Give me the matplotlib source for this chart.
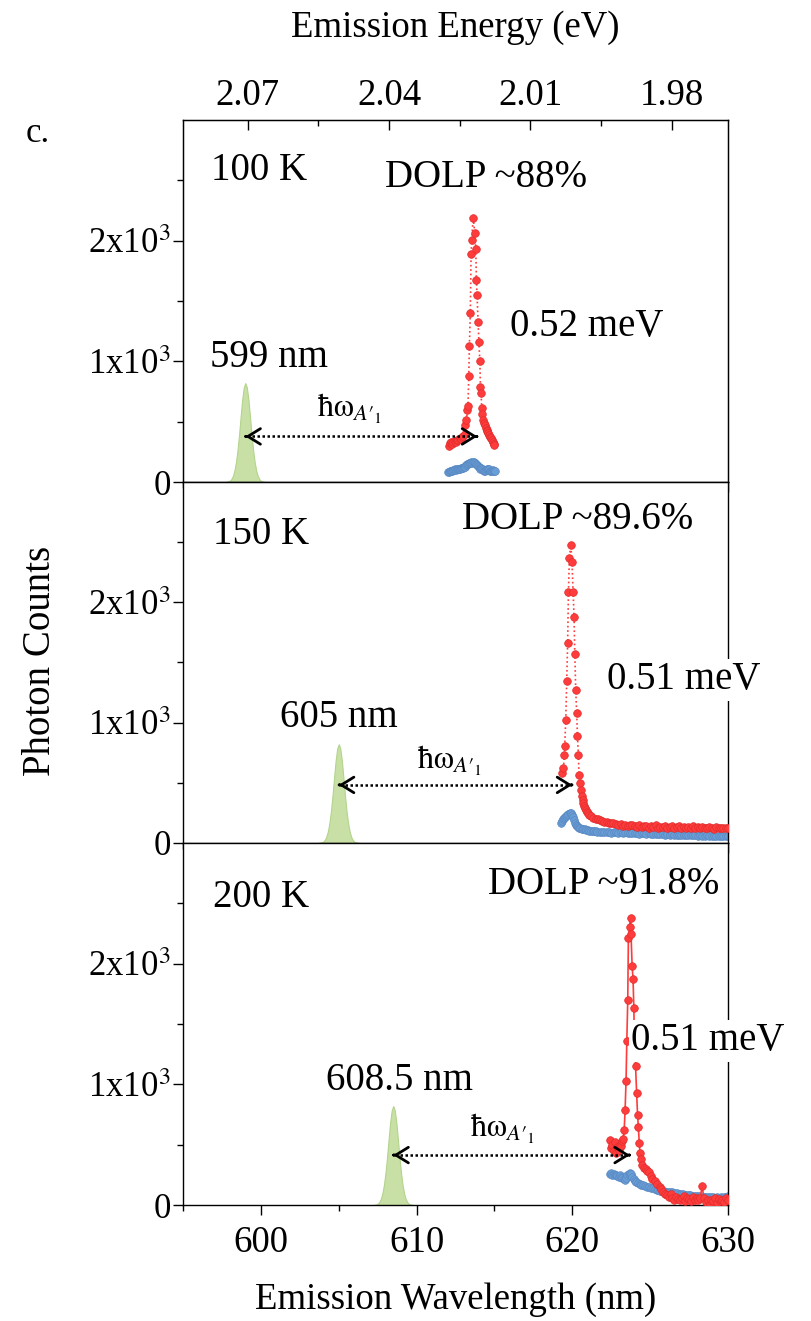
import numpy as np
import matplotlib.pyplot as plt
from matplotlib.ticker import FixedLocator, MultipleLocator, FuncFormatter

plt.rcParams['font.family'] = ['Liberation Serif', 'DejaVu Serif']
plt.rcParams['mathtext.fontset'] = 'stix'

# ---- 100 K ----
wl_100_red = [612.05, 612.12, 612.2, 612.28, 612.36, 612.44, 612.52, 612.6, 612.68, 612.76,
              612.84, 612.92, 613.0, 613.08, 613.13, 613.2, 613.26, 613.3, 613.35, 613.39,
              613.45, 613.5, 613.54, 613.63, 613.74, 613.8, 613.84, 613.88, 613.95, 614.0,
              614.06, 614.1, 614.14, 614.18, 614.23, 614.28, 614.34, 614.4, 614.45, 614.5,
              614.55, 614.6, 614.66, 614.72, 614.78, 614.84, 614.9, 614.95, 615.0]
cnt_100_red = [300, 320, 330, 315, 335, 340, 330, 350, 345, 360,
               355, 370, 380, 400, 475, 511, 594, 633, 878, 1128,
               1405, 1892, 2008, 2189, 2064, 1933, 1675, 1550, 1328, 1164,
               1003, 786, 739, 614, 560, 517, 490, 475, 450, 433,
               420, 406, 390, 375, 364, 350, 335, 317, 305]
wl_100_blue = [612.0, 612.06, 612.12, 612.18, 612.24, 612.3, 612.36, 612.42, 612.48, 612.54,
               612.6, 612.66, 612.72, 612.78, 612.84, 612.9, 612.96, 613.02, 613.08, 613.14,
               613.2, 613.26, 613.32, 613.38, 613.44, 613.5, 613.56, 613.62, 613.68, 613.74,
               613.8, 613.86, 613.92, 613.98, 614.04, 614.1, 614.16, 614.22, 614.28, 614.34,
               614.4, 614.46, 614.52, 614.58, 614.64, 614.7, 614.76, 614.82, 614.88, 614.94,
               615.0, 615.05]
cnt_100_blue = [85, 80, 90, 95, 88, 95, 100, 98, 105, 100,
                108, 112, 105, 110, 118, 115, 120, 125, 130, 128,
                140, 148, 150, 155, 160, 165, 158, 162, 168, 160,
                150, 140, 130, 125, 118, 110, 115, 105, 100, 95,
                92, 100, 108, 112, 105, 95, 88, 92, 100, 95,
                88, 92]

# ---- 150 K ----
wl_150_red = [619.36, 619.43, 619.49, 619.51, 619.58, 619.64, 619.7, 619.75, 619.81, 619.9,
              619.98, 620.05, 620.11, 620.16, 620.22, 620.28, 620.33, 620.39, 620.43, 620.5,
              620.54, 620.6, 620.66, 620.71, 620.77, 620.82, 620.9, 620.97, 621.03, 621.1,
              621.2, 621.35, 621.5, 621.65, 621.78, 621.9, 622.05, 622.2, 622.35, 622.5, 622.64]
cnt_150_red = [581, 622, 733, 803, 1025, 1344, 1664, 2081, 2364, 2475,
               2331, 2086, 1881, 1567, 1267, 1081, 892, 727, 567, 497,
               442, 386, 355, 331, 305, 289, 270, 255, 247, 235,
               220, 211, 200, 195, 192, 185, 178, 172, 168, 165, 164]
tail_150_red = [160, 148, 155, 142, 150, 138, 145, 152, 140, 135, 148, 130, 142, 138, 125, 140,
                132, 145, 128, 136, 130, 142, 125, 133, 138, 126, 130, 140, 122, 135, 128, 132,
                120, 138, 126, 130, 124, 135, 128, 120, 132, 126, 118, 130, 124, 128, 120, 126, 122]
tail_150_red_span = (622.8, 630.0)

wl_150_blue = [619.26, 619.33, 619.4, 619.47, 619.54, 619.61, 619.68, 619.75, 619.82, 619.89,
               619.96, 620.03, 620.1, 620.17, 620.24, 620.31, 620.38, 620.45, 620.52, 620.6,
               620.7, 620.8, 620.9, 621.0, 621.1, 621.2, 621.3, 621.4, 621.5, 621.6]
cnt_150_blue = [164, 180, 195, 205, 215, 222, 230, 238, 245, 247,
                235, 215, 190, 165, 150, 138, 130, 125, 120, 118,
                115, 112, 108, 105, 102, 100, 98, 96, 95, 94]
tail_150_blue = [92, 90, 94, 88, 91, 86, 89, 92, 85, 88, 84, 87, 82, 86, 80, 84, 83, 78, 82, 80,
                 76, 80, 78, 74, 77, 72, 76, 74, 70, 73, 68, 72, 70, 66, 70, 67, 64, 68, 65, 62,
                 66, 63, 60, 64, 61, 58, 62, 60, 57, 61, 58, 56, 59, 55, 58, 56]
tail_150_blue_span = (621.75, 630.0)

# ---- 200 K ----
wl_200_red = [622.42, 622.5, 622.58, 622.66, 622.74, 622.82, 622.9, 622.98, 623.06, 623.14,
              623.2, 623.26, 623.33, 623.39, 623.45, 623.5, 623.56, 623.6, 623.68, 623.74,
              623.77, 623.84, 623.9, 623.95, 623.99, 624.06, 624.13, 624.19, 624.24, 624.3,
              624.35, 624.42, 624.49, 624.6, 624.71, 624.82, 624.93, 625.04, 625.14, 625.3, 625.46]
cnt_200_red = [540, 470, 500, 445, 520, 430, 480, 455, 500, 490,
               530, 547, 621, 789, 1030, 1359, 1700, 2215, 2303, 2381,
               2248, 1983, 1872, 1636, 1331, 1152, 928, 746, 650, 510,
               427, 380, 330, 310, 302, 285, 273, 240, 218, 195, 176]
tail_200_red = [150, 130, 110, 95, 80, 66, 90, 60, 45, 70, 51, 40, 55, 75, 35, 60, 48, 30, 65,
                42, 55, 38, 62, 157, 55, 25, 40, 10, 45, 30, 60, 20, 50, 35, 45, 25, 55, 40]
tail_200_red_span = (625.6, 630.0)

wl_200_blue = [622.42, 622.5, 622.58, 622.66, 622.74, 622.82, 622.9, 622.98, 623.06, 623.14,
               623.22, 623.3, 623.38, 623.46, 623.54, 623.62, 623.7, 623.78, 623.86, 623.94,
               624.02, 624.1]
cnt_200_blue = [255, 262, 250, 258, 245, 252, 240, 235, 248, 230,
                225, 215, 205, 225, 245, 258, 268, 255, 235, 215,
                200, 192]
tail_200_blue = [185, 178, 170, 165, 158, 150, 146, 140, 138, 132, 128, 125, 120, 118, 115, 112,
                 110, 106, 104, 100, 98, 96, 92, 90, 88, 86, 84, 82, 80, 78, 76, 75, 72, 74,
                 70, 68, 70, 66, 68, 64, 66, 62, 65, 60, 64, 62, 66, 70, 72]
tail_200_blue_span = (624.2, 630.0)

# laser line profile (offset from line centre in nm, counts)
laser_offset = [-1.3, -1.1, -1.0, -0.9, -0.8, -0.7, -0.6, -0.5, -0.4, -0.3, -0.2, -0.1, 0.0,
                0.1, 0.2, 0.3, 0.4, 0.5, 0.6, 0.7, 0.8, 0.9, 1.0, 1.1, 1.3]
laser_counts = [0, 4, 10, 24, 50, 95, 165, 265, 394, 543, 683, 783, 820,
                783, 683, 543, 394, 265, 165, 95, 50, 24, 10, 4, 0]

laser_nm = [599, 605, 608.5]
temps = ['100 K', '150 K', '200 K']
dolp = ['DOLP ~88%', 'DOLP ~89.6%', 'DOLP ~91.8%']
fwhm = ['0.52 meV', '0.51 meV', '0.51 meV']
red_ls = [':', ':', '-']

red_sets = [
    (wl_100_red, cnt_100_red),
    (list(wl_150_red) + list(np.linspace(*tail_150_red_span, len(tail_150_red))),
     cnt_150_red + tail_150_red),
    (list(wl_200_red) + list(np.linspace(*tail_200_red_span, len(tail_200_red))),
     cnt_200_red + tail_200_red),
]
blue_sets = [
    (wl_100_blue, cnt_100_blue),
    (list(wl_150_blue) + list(np.linspace(*tail_150_blue_span, len(tail_150_blue))),
     cnt_150_blue + tail_150_blue),
    (list(wl_200_blue) + list(np.linspace(*tail_200_blue_span, len(tail_200_blue))),
     cnt_200_blue + tail_200_blue),
]

# phonon arrow: (start nm, end nm, height), label position
arrows = [(599.0, 613.9, 378), (605.0, 620.0, 482), (608.5, 623.7, 414)]
phonon_pos = [(605.7, 610), (612.1, 683), (615.55, 630)]
# text positions
temp_pos = [(596.8, 2580), (596.9, 2560), (596.9, 2550)]
dolp_pos = [(608.0, 2520), (612.9, 2685), (614.6, 2660)]
fwhm_pos = [(616.0, 1285), (622.2, 1355), (623.8, 1360)]
laser_lbl_pos = [(600.5, 1035), (605.0, 1040), (608.9, 1036)]

fs = 25
fs_lbl = 26.5
fs_txt = 28
fig = plt.figure(figsize=(8.12, 13.21), dpi=100)
rects = [(0.2254, 0.6351, 0.6712, 0.2740),
         (0.2254, 0.3619, 0.6712, 0.2733),
         (0.2254, 0.0878, 0.6712, 0.2740)]

ytick_fmt = FuncFormatter(lambda v, p: '0' if v == 0 else '%dx10$^3$' % (v / 1000))

axes = []
for i, r in enumerate(rects):
    ax = fig.add_axes(r)
    axes.append(ax)
    ax.set_xlim(595, 630)
    ax.set_ylim(0, 3000)
    ax.xaxis.set_major_locator(MultipleLocator(10))
    ax.xaxis.set_minor_locator(MultipleLocator(5))
    ax.yaxis.set_major_locator(FixedLocator([0, 1000, 2000]))
    ax.yaxis.set_minor_locator(FixedLocator([500, 1500, 2500]))
    ax.yaxis.set_major_formatter(ytick_fmt)
    ax.tick_params(which='both', direction='out', width=1.0, labelsize=fs,
                   top=False, right=False)
    ax.tick_params(which='major', length=7)
    ax.tick_params(which='minor', length=4)
    ax.tick_params(axis='y', pad=2)
    ax.tick_params(axis='x', pad=8, labelsize=fs_lbl, labelbottom=(i == 2))
    for s in ax.spines.values():
        s.set_linewidth(1.0)

    # laser line
    lx = [laser_nm[i] + d for d in laser_offset]
    ax.fill_between(lx, laser_counts, 0, facecolor='#c8e0a6', edgecolor='#b3d48c',
                    lw=0.8, zorder=1)

    rw, rc = red_sets[i]
    ax.plot(rw, rc, color='#ff3b3b', ls=red_ls[i], lw=1.2, marker='o', ms=5.5,
            mfc='#ff3c3c', mec='#e02c2c', mew=0.5, zorder=3)
    bw, bc = blue_sets[i]
    ax.plot(bw, bc, ls='none', marker='o', ms=5.5, mfc='#6a9ed6', mec='#5888c2',
            mew=0.5, zorder=2)

    # phonon energy arrow
    x0, x1, ya = arrows[i]
    ax.plot([x0 + 0.1, x1 - 0.1], [ya, ya], color='k', ls=(0, (1, 1)), lw=1.8, zorder=4)
    for tip, tail in ((x0, x0 + 0.05), (x1, x1 - 0.05)):
        ax.annotate('', xy=(tip, ya), xytext=(tail, ya),
                    arrowprops=dict(arrowstyle='->,head_length=0.45,head_width=0.28',
                                    lw=2.0, color='k', shrinkA=0, shrinkB=0,
                                    mutation_scale=20), zorder=4)
    ax.text(*phonon_pos[i], r'$\mathrm{ħω}_{A\prime_{1}}$', fontsize=23,
            ha='center', va='center')

    ax.text(*temp_pos[i], temps[i], fontsize=fs_txt, ha='left', va='center')
    ax.text(*dolp_pos[i], dolp[i], fontsize=fs_txt, ha='left', va='center')
    t = ax.text(*fwhm_pos[i], fwhm[i], fontsize=fs_txt, ha='left', va='center', zorder=5)
    if i > 0:
        t.set_bbox(dict(facecolor='white', edgecolor='none', pad=2))
    ax.text(*laser_lbl_pos[i], '%g nm' % laser_nm[i], fontsize=fs_txt, ha='center',
            va='center')

# energy scale on top
top = axes[0].twiny()
top.set_xlim(1239.84 / 595, 1239.84 / 630)
top.xaxis.set_major_locator(FixedLocator([2.07, 2.04, 2.01, 1.98]))
top.xaxis.set_minor_locator(FixedLocator([2.055, 2.025, 1.995]))
top.xaxis.set_major_formatter(FuncFormatter(lambda v, p: '%.2f' % v))
top.tick_params(which='both', direction='in', width=1.0, labelsize=fs_lbl, pad=5)
top.tick_params(which='major', length=7)
top.tick_params(which='minor', length=4)
top.set_xlabel('Emission Energy (eV)', fontsize=fs_lbl, labelpad=30)

axes[2].set_xlabel('Emission Wavelength (nm)', fontsize=fs_lbl, labelpad=16)
fig.text(0.050, 0.50, 'Photon Counts', rotation=90, fontsize=28, ha='center', va='center')
fig.text(0.047, 0.899, 'c.', fontsize=fs, ha='center', va='center')

fig.savefig('out.png', dpi=100)
